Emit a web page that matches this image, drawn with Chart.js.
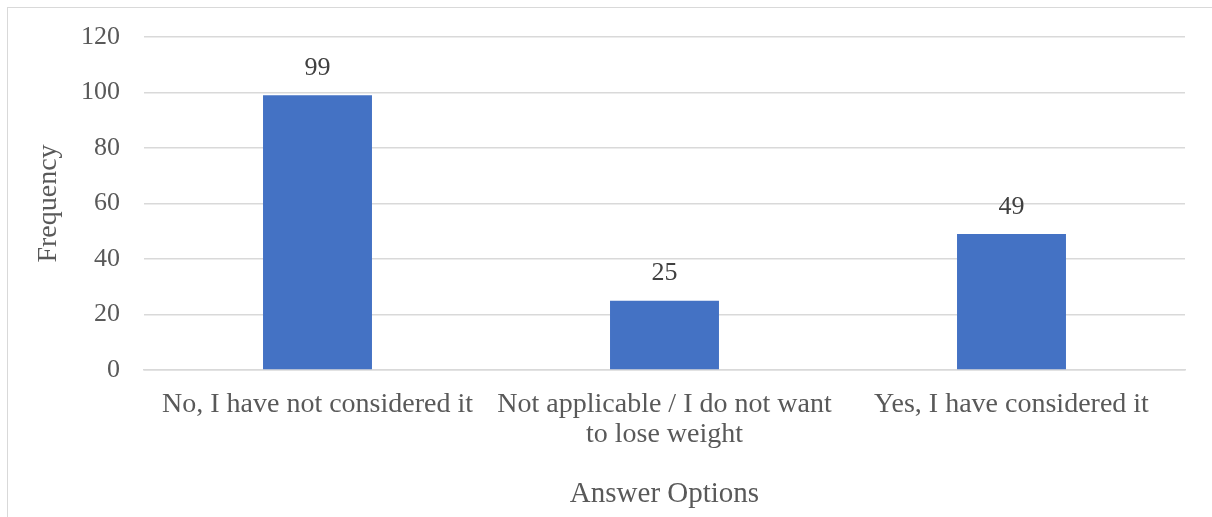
<!DOCTYPE html>
<html><head><meta charset="utf-8">
<script src="https://cdn.jsdelivr.net/npm/chart.js@4"></script>
<style>
html,body{margin:0;padding:0;background:#fff;overflow:hidden;}
#wrap{position:relative;width:1212px;height:517px;}
#frame{position:absolute;left:7px;top:7px;width:1300px;height:600px;border:1.5px solid #d9d9d9;box-sizing:border-box;}
canvas{position:absolute;left:0;top:0;}
</style></head>
<body><div id="wrap"><div id="frame"></div><canvas id="c" width="1212" height="517"></canvas></div>
<script>
const categories = [["No, I have not considered it"], ["Not applicable / I do not want", "to lose weight"], ["Yes, I have considered it"]];
const frequency = [99, 25, 49];
const yTicks = [0, 20, 40, 60, 80, 100, 120];

const FONT = "'Liberation Serif', 'Times New Roman', serif";
const labelPlugin = {
  id: 'barLabels',
  afterDatasetsDraw(chart) {
    const ctx = chart.ctx;
    const meta = chart.getDatasetMeta(0);
    ctx.save();
    ctx.font = "26px " + FONT;
    ctx.fillStyle = '#404040';
    ctx.textAlign = 'center';
    ctx.textBaseline = 'middle';
    meta.data.forEach((bar, i) => {
      ctx.fillText(String(frequency[i]), bar.x, bar.y - 27);
    });
    ctx.restore();
  }
};

new Chart(document.getElementById('c'), {
  type: 'bar',
  data: {
    labels: categories,
    datasets: [{ data: frequency, backgroundColor: '#4472C4', barPercentage: 0.314, categoryPercentage: 1 }]
  },
  options: {
    responsive: false,
    animation: false,
    layout: { padding: { top: 37, right: 27, left: 20, bottom: 5 } },
    plugins: { legend: { display: false }, tooltip: { enabled: false } },
    scales: {
      x: {
        grid: { display: false, drawTicks: false },
        border: { display: true, color: '#d9d9d9', width: 1.5 },
        ticks: { color: '#595959', font: { family: FONT, size: 28, lineHeight: 1.07 }, padding: 20, maxRotation: 0, autoSkip: false },
        title: { display: true, text: 'Answer Options', color: '#595959', font: { family: FONT, size: 29 }, padding: { top: 14, bottom: 0 } },
        afterFit(s) { s.height = 142; s.paddingTop = 0; }
      },
      y: {
        min: 0, max: 120,
        afterBuildTicks(s) { s.ticks = yTicks.map(v => ({ value: v })); },
        grid: { color: '#d9d9d9', lineWidth: 1.5, drawTicks: false },
        border: { display: false },
        ticks: { color: '#595959', font: { family: FONT, size: 26 }, padding: 24 },
        title: { display: true, text: 'Frequency', color: '#595959', font: { family: FONT, size: 28 }, padding: { top: 12, bottom: 0 } },
        afterFit(s) { s.width = 124; s.paddingTop = 0; s.paddingBottom = 0; }
      }
    }
  },
  plugins: [labelPlugin]
});
</script>
</body></html>
